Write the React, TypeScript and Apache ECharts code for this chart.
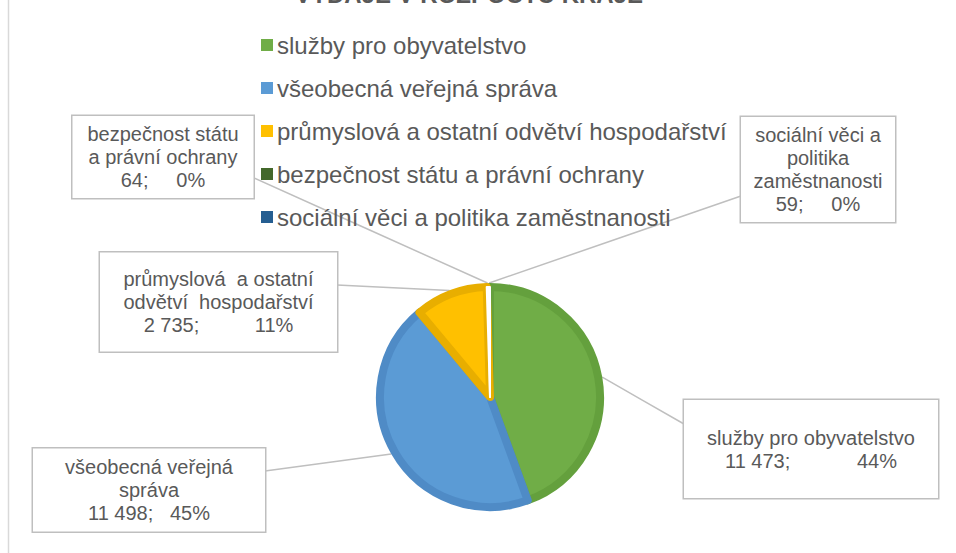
import React, { useEffect, useRef } from 'react';
import * as echarts from 'echarts';

const TITLE = 'VÝDAJE V ROZPOČTU KRAJE';
const CATEGORIES = [
  'služby pro obyvatelstvo',
  'všeobecná veřejná správa',
  'průmyslová a ostatní odvětví hospodařství',
  'bezpečnost státu a právní ochrany',
  'sociální věci a politika zaměstnanosti',
];
const VALUES = [11473, 11498, 2735, 64, 59];
const LABEL_NAMES = [
  'služby pro obyvatelstvo',
  'všeobecná veřejná\nspráva',
  'průmyslová  a ostatní\nodvětví  hospodařství',
  'bezpečnost státu\na právní ochrany',
  'sociální věci a\npolitika\nzaměstnanosti',
];
const LABEL_GAPS = ['            ', '   ', '          ', '     ', '     '];
const COLORS = ['#70ad47', '#5b9bd5', '#ffc000', '#43682b', '#255e91'];
const BORDER_COLORS = ['#64a03d', '#4f8bc6', '#e8ae00', '#ffffff', '#ffffff'];
const BORDER_WIDTHS = [8, 8, 8, 2, 2];

// label box layout: centre, size, leader end point on the box edge
const LABEL_BOX = [
  { cx: 811, cy: 449, w: 254, h: 98, ex: 684, ey: 424, shift: 5 },
  { cx: 149, cy: 490, w: 232, h: 83, ex: 265, ey: 471, shift: 0 },
  { cx: 218.5, cy: 302, w: 237, h: 99, ex: 337, ey: 285, shift: 4 },
  { cx: 163, cy: 157, w: 181, h: 82, ex: 254, ey: 178, shift: 0 },
  { cx: 818, cy: 169.5, w: 154, h: 105, ex: 741, ey: 196, shift: 0 },
];

const CENTER = [490, 397];
const RADIUS = 110;
const LINE_H = 23;
const TEXT = '#595959';
const FONT = '"Liberation Sans", Arial, sans-serif';

function fmt(v: number) {
  return String(v).replace(/\B(?=(\d{3})+(?!\d))/g, ' ');
}

export default function App() {
  const ref = useRef<HTMLDivElement>(null);
  useEffect(() => {
    if (!ref.current) return;
    const chart = echarts.init(ref.current, null, { renderer: 'svg' });
    const data = CATEGORIES.map((name, i) => {
      const b = LABEL_BOX[i];
      const nLines = LABEL_NAMES[i].split('\n').length + 1;
      const pv = (b.h - nLines * LINE_H) / 2;
      return {
        name,
        value: VALUES[i],
        itemStyle: { color: COLORS[i], borderColor: BORDER_COLORS[i], borderWidth: BORDER_WIDTHS[i] },
        label: {
          width: b.w,
          padding: [pv + b.shift, 0, pv - b.shift, 0],
        },
      };
    });
    chart.setOption({
      animation: false,
      backgroundColor: '#ffffff',
      graphic: [
        {
          type: 'line',
          shape: { x1: 8.5, y1: 0, x2: 8.5, y2: 553 },
          style: { stroke: '#d9d9d9', lineWidth: 1.5 },
        },
        {
          type: 'text',
          x: 469,
          y: 6,
          style: {
            text: TITLE,
            fill: TEXT,
            font: `bold 24px ${FONT}`,
            textAlign: 'center',
            textVerticalAlign: 'bottom',
          },
        },
      ],
      legend: {
        orient: 'vertical',
        left: 256,
        top: 28,
        itemWidth: 12,
        itemHeight: 12,
        itemGap: 19,
        icon: 'rect',
        itemStyle: { borderWidth: 0 },
        textStyle: { color: TEXT, fontSize: 24, fontFamily: FONT, padding: [0, 0, 0, -1] },
        data: CATEGORIES,
      },
      series: [
        {
          type: 'pie',
          center: CENTER,
          radius: RADIUS,
          startAngle: 90,
          clockwise: true,
          avoidLabelOverlap: false,
          percentPrecision: 0,
          data,
          label: {
            show: true,
            position: 'outside',
            overflow: 'none',
            color: TEXT,
            fontSize: 20,
            fontFamily: FONT,
            lineHeight: LINE_H,
            align: 'center',
            backgroundColor: '#ffffff',
            borderColor: '#bfbfbf',
            borderWidth: 1.5,
            formatter: (p: any) =>
              `${LABEL_NAMES[p.dataIndex]}\n${fmt(p.value)};${LABEL_GAPS[p.dataIndex]}${p.percent}%`,
          },
          labelLine: {
            show: true,
            lineStyle: { color: '#bfbfbf', width: 1.5 },
          },
          labelLayout: (params: any) => {
            const b = LABEL_BOX[params.dataIndex];
            const p0 = params.labelLinePoints ? params.labelLinePoints[0] : [CENTER[0], CENTER[1] - RADIUS];
            const dx = p0[0] - CENTER[0];
            const dy = p0[1] - CENTER[1];
            const k = (RADIUS + 4) / RADIUS;
            const a = [CENTER[0] + dx * k, CENTER[1] + dy * k];
            const m = [(a[0] + b.ex) / 2, (a[1] + b.ey) / 2];
            return {
              x: b.cx,
              y: b.cy,
              align: 'center',
              verticalAlign: 'middle',
              labelLinePoints: [a, m, [b.ex, b.ey]],
            };
          },
          emphasis: { disabled: true },
        },
      ],
    });
    return () => chart.dispose();
  }, []);
  return (
    <div
      ref={ref}
      style={{ position: 'absolute', left: 0, top: 0, width: 956, height: 553 }}
    />
  );
}
